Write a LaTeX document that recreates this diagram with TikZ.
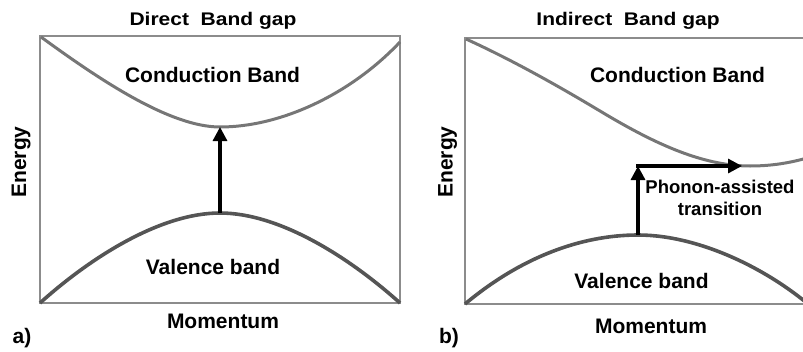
\documentclass[tikz,border=0pt]{standalone}
\usepackage{fontspec}
\setmainfont{Liberation Sans}
\usetikzlibrary{arrows.meta}
\definecolor{cframe}{RGB}{140,140,140}
\definecolor{ccond}{RGB}{118,118,118}
\definecolor{cval}{RGB}{85,85,85}

\begin{document}
\begin{tikzpicture}[
  x=1pt, y=-1pt,
  font=\bfseries\fontsize{21}{25}\selectfont,
  frame/.style={draw=cframe, line width=2.6pt},
  cond/.style={draw=ccond, line width=3pt},
  val/.style={draw=cval, line width=3.6pt},
  ar/.style={-{Triangle[length=14pt,width=14pt]}, line width=3.2pt},
  lbl/.style={anchor=base, inner sep=0pt},
  small/.style={lbl, align=center, font=\bfseries\fontsize{18.5}{22}\selectfont},
]
\clip (0,0) rectangle (803,351);

% ---- a) direct band gap ----
\draw[frame] (40,36) rectangle (400,303);
\draw[cond] (41,37) .. controls (100,80) and (170,127) .. (220,127)
  .. controls (280,127) and (350,95) .. (400,42);
\draw[val] (40,303) .. controls (90,258) and (160,213) .. (220,213)
  .. controls (280,213) and (350,258) .. (400,303);
\coordinate (topA) at (220,213);
\coordinate (minA) at (220,127);
\draw[ar] (topA) -- (minA);

\node[lbl] (titleA) at (213,25) {\scalebox{1}[0.87]{Direct\ \ Band gap}};
\node[lbl] (condA) at (212.5,82) {Conduction Band};
\node[lbl] (valA) at (213,274) {Valence band};
\node[lbl, rotate=90] (enA) at (26,162) {Energy};
\node[lbl] (momA) at (223,328) {Momentum};
\node[lbl] (tagA) at (22,343) {a)};

% ---- b) indirect band gap ----
\draw[frame] (465,38) rectangle (812,304);
\draw[cond] (466,39) .. controls (510,59) and (555,84) .. (600,111)
  .. controls (650,141) and (700,166) .. (750,166)
  .. controls (780,166) and (805,160) .. (830,150);
\draw[val] (465,304) .. controls (520,258) and (580,235) .. (638,235)
  .. controls (700,235) and (770,270) .. (815,310);
\coordinate (topB) at (638,235);
\coordinate (turnB) at (638,166);
\coordinate (minB) at (742,166);
\draw[ar] (topB) -- (turnB);
\draw[ar] ([xshift=-1.6pt]turnB) -- (minB);

\node[lbl] (titleB) at (628,25) {\scalebox{1}[0.87]{Indirect\ \ Band gap}};
\node[lbl] (condB) at (677.5,82) {Conduction Band};
\node[small] (phon) at (720,215) {Phonon-assisted\\transition};
\node[lbl] (valB) at (641.5,288) {Valence band};
\node[lbl, rotate=90] (enB) at (452.5,162) {Energy};
\node[lbl] (momB) at (651,333) {Momentum};
\node[lbl] (tagB) at (449,343) {b)};
\end{tikzpicture}
\end{document}
